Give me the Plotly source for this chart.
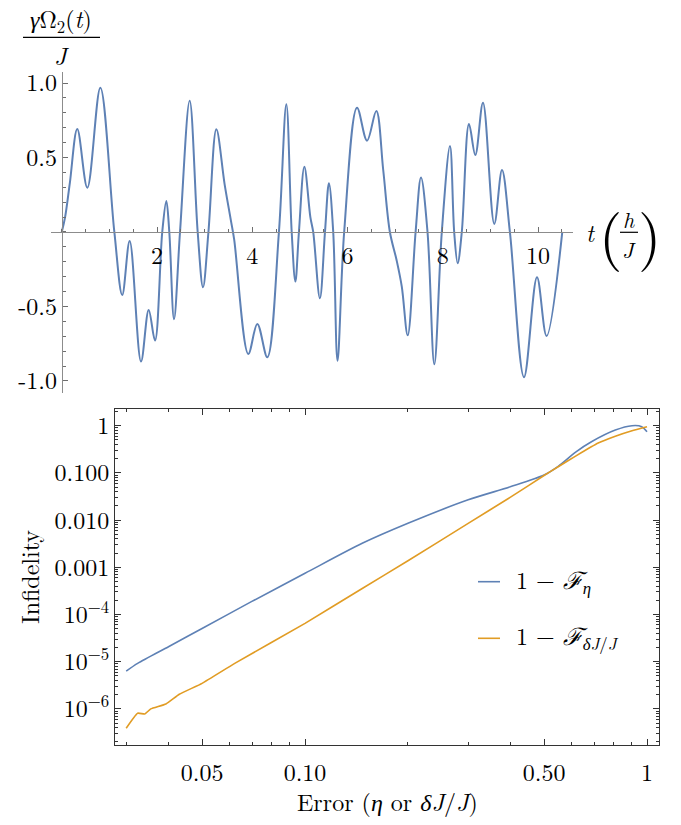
import plotly.graph_objects as go

# ---------------- data: top panel (pulse shape) ----------------
t_vals = [0.0, 0.07, 0.17, 0.326, 0.537, 0.81, 1.104, 1.27, 1.426, 1.664, 1.825, 1.958,
          2.11, 2.196, 2.258, 2.357, 2.483, 2.686, 2.854, 2.966, 3.08, 3.246, 3.42, 3.55,
          3.62, 3.917, 4.106, 4.316, 4.56, 4.716, 4.828, 4.905, 4.98, 5.094, 5.22, 5.28,
          5.42, 5.527, 5.61, 5.70, 5.79, 5.93, 6.2, 6.41, 6.605, 6.75, 6.89, 7.03, 7.14,
          7.264, 7.43, 7.543, 7.68, 7.823, 7.98, 8.152, 8.24, 8.313, 8.40, 8.551, 8.684,
          8.845, 9.082, 9.244, 9.41, 9.706, 9.979, 10.18, 10.51]
omega_vals = [0.0, 0.10, 0.33, 0.691, 0.297, 0.969, 0.0, -0.423, -0.06, -0.870, -0.523, -0.729,
              0.0, 0.208, 0.0, -0.586, 0.0, 0.881, 0.0, -0.371, 0.0, 0.689, 0.32, 0.08,
              -0.05, -0.819, -0.617, -0.841, 0.0, 0.857, 0.0, -0.333, 0.0, 0.438, 0.10, 0.0,
              -0.445, 0.0, 0.327, 0.0, -0.864, 0.0, 0.834, 0.613, 0.812, 0.416, 0.0, -0.188, -0.367,
              -0.694, 0.0, 0.365, 0.0, -0.888, 0.0, 0.577, 0.0, -0.21, 0.0, 0.725, 0.517,
              0.868, 0.054, 0.416, 0.0, -0.975, -0.304, -0.698, 0.0]

# ---------------- data: bottom panel (infidelity) ----------------
err_eta = [0.03, 0.0324, 0.04, 0.05, 0.0697, 0.1, 0.147, 0.2, 0.3, 0.4, 0.5, 0.55, 0.62,
           0.688, 0.808, 0.904, 0.965, 1.0]
infid_eta = [6.3e-6, 9.2e-6, 2.1e-5, 5.05e-5, 1.87e-4, 7.46e-4, 3.22e-3, 8.55e-3, 0.0269,
             0.0513, 0.0904, 0.138, 0.28, 0.458, 0.811, 1.0, 0.955, 0.746]
err_dj = [0.03, 0.0324, 0.034, 0.0354, 0.0392, 0.0429, 0.05, 0.0623, 0.1, 0.147, 0.2, 0.3,
          0.4, 0.5, 0.55, 0.62, 0.72, 0.808, 0.904, 1.0]
infid_dj = [3.9e-7, 8.1e-7, 7.8e-7, 1.0e-6, 1.27e-6, 2.04e-6, 3.48e-6, 9.2e-6, 6.5e-5,
            3.55e-4, 1.38e-3, 8.5e-3, 0.031, 0.088, 0.135, 0.23, 0.43, 0.60, 0.783, 0.955]

top_xticks = [2, 4, 6, 8, 10]
top_yticks = [-1.0, -0.5, 0.5, 1.0]
top_ytext = ["-1.0", "-0.5", "0.5", "1.0"]
bot_xticks = [0.05, 0.1, 0.5, 1]
bot_xtext = ["0.05", "0.10", "0.50", "1"]
bot_yticks = [1, 0.1, 0.01, 0.001, 1e-4, 1e-5, 1e-6]
bot_ytext = ["1", "0.100", "0.010", "0.001", "10<sup>−4</sup>", "10<sup>−5</sup>", "10<sup>−6</sup>"]

BLUE = "#5E81B5"
ORANGE = "#E19C24"
FONT = "Latin Modern Roman"
W, H = 681, 825


def fx(p):
    return p / W


def fy(p):
    return 1 - p / H


fig = go.Figure()
fig.add_trace(go.Scatter(x=t_vals, y=omega_vals, mode="lines",
                         line=dict(color=BLUE, width=2, shape="spline", smoothing=1.0),
                         xaxis="x", yaxis="y", showlegend=False, hoverinfo="skip"))
fig.add_trace(go.Scatter(x=err_eta, y=infid_eta, mode="lines",
                         line=dict(color=BLUE, width=1.6, shape="spline", smoothing=0.8),
                         xaxis="x2", yaxis="y2", showlegend=False, hoverinfo="skip"))
fig.add_trace(go.Scatter(x=err_dj, y=infid_dj, mode="lines",
                         line=dict(color=ORANGE, width=1.6, shape="spline", smoothing=0.4),
                         xaxis="x2", yaxis="y2", showlegend=False, hoverinfo="skip"))

minor_y_bot = [k * 10 ** n for n in range(-7, 1) for k in range(2, 10)]
minor_x_bot = [k * 10 ** n for n in range(-2, 1) for k in range(2, 10)]

tickfont = dict(family=FONT, size=24, color="black")

fig.update_layout(
    width=W, height=H, autosize=False,
    margin=dict(l=0, r=0, t=0, b=0, pad=0),
    paper_bgcolor="white", plot_bgcolor="white",
    font=dict(family=FONT, color="black"),
    xaxis=dict(domain=[fx(51), fx(573)], range=[-0.226, 10.735], anchor="free",
               position=fy(232), showline=True, linecolor="#8c8c8c", linewidth=1,
               showgrid=False, zeroline=False, tickmode="array", tickvals=top_xticks,
               ticks="inside", ticklen=5, tickcolor="#6e6e6e", tickfont=tickfont,
               ticklabelstandoff=2, automargin=False,
               minor=dict(tickmode="linear", tick0=0, dtick=0.5, ticks="inside",
                          ticklen=3, tickcolor="#6e6e6e")),
    yaxis=dict(domain=[fy(393), fy(72)], range=[-1.081, 1.074], anchor="free",
               position=fx(61.75), showline=True, linecolor="#8c8c8c", linewidth=1,
               showgrid=False, zeroline=False, tickmode="array", tickvals=top_yticks,
               ticktext=top_ytext, ticks="inside", ticklen=5, tickcolor="#6e6e6e",
               tickfont=tickfont, automargin=False,
               minor=dict(tickmode="linear", tick0=0, dtick=0.1, ticks="inside",
                          ticklen=3, tickcolor="#6e6e6e")),
    xaxis2=dict(domain=[fx(115), fx(659)], type="log", range=[-1.5556, 0.0351],
                anchor="y2", showline=True, mirror="ticks", linecolor="#333333",
                linewidth=1, showgrid=False, zeroline=False, tickmode="array",
                tickvals=bot_xticks, ticktext=bot_xtext, ticks="inside", ticklen=6,
                tickcolor="#333333", tickfont=tickfont, ticklabelstandoff=6,
                automargin=False,
                minor=dict(tickmode="array", tickvals=minor_x_bot, ticks="inside",
                           ticklen=3, tickcolor="#333333")),
    yaxis2=dict(domain=[fy(745), fy(409)], type="log", range=[-6.765, 0.354],
                anchor="x2", showline=True, mirror="ticks", linecolor="#333333",
                linewidth=1, showgrid=False, zeroline=False, tickmode="array",
                tickvals=bot_yticks, ticktext=bot_ytext, ticks="inside", ticklen=6,
                tickcolor="#333333", tickfont=tickfont, automargin=False,
                minor=dict(tickmode="array", tickvals=minor_y_bot, ticks="inside",
                           ticklen=3, tickcolor="#333333")),
)

ann = []
shapes = []


def text(x, y, s, size=24, xanchor="center", textangle=0):
    ann.append(dict(x=fx(x), y=fy(y), xref="paper", yref="paper", text=s, showarrow=False,
                    xanchor=xanchor, yanchor="middle", textangle=textangle,
                    font=dict(family=FONT, size=size, color="black")))


def hline(x0, x1, y, color="black", width=1.2):
    shapes.append(dict(type="line", xref="paper", yref="paper", x0=fx(x0), x1=fx(x1),
                       y0=fy(y), y1=fy(y), line=dict(color=color, width=width)))


# y label of top panel: fraction
text(61, 19, "<i>γ</i>Ω<sub>2</sub>(<i>t</i>)", size=24)
hline(23, 100, 37.3)
text(61, 55, "<i>J</i>", size=24)

# x label of top panel: t (h/J)
text(590, 232, "<i>t</i>", size=24)
text(610, 231, "(", size=60)
text(629, 219, "<i>h</i>", size=22)
hline(620, 638, 232.3)
text(629, 249, "<i>J</i>", size=22)
text(649, 231, ")", size=60)

# bottom axis titles
text(29, 577, "Infidelity", size=24, textangle=-90)
text(387, 801, "Error (<i>η</i> or <i>δJ</i>/<i>J</i>)", size=24)

# legend
hline(478, 500, 581.7, color=BLUE, width=1.6)
text(514, 580, "1 − <i>ℱ</i><sub><i>η</i></sub>", size=24, xanchor="left")
hline(478, 500, 638.3, color=ORANGE, width=1.6)
text(514, 636, "1 − <i>ℱ</i><sub><i>δJ</i>/<i>J</i></sub>", size=24, xanchor="left")

fig.update_layout(annotations=ann, shapes=shapes)

fig.write_html("out.html")
